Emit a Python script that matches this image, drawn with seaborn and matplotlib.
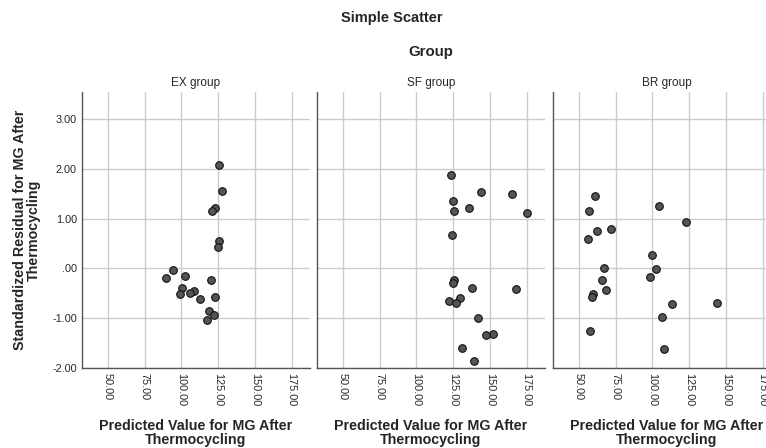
import numpy as np
import pandas as pd
import matplotlib
matplotlib.use("Agg")
import matplotlib.pyplot as plt
import seaborn as sns

sns.set_style("white")
plt.rcParams.update({
    "font.family": ["Liberation Sans", "DejaVu Sans"],
    "axes.edgecolor": "#555555",
    "axes.linewidth": 1.0,
})

groups = ["EX group", "SF group", "BR group"]

ex_pred = [125.7, 128.0, 122.6, 121.2, 125.7, 125.0, 94.5, 89.6, 102.7, 120.3,
           100.4, 99.3, 108.8, 106.1, 112.8, 123.2, 118.7, 122.1, 117.8]
ex_resid = [2.08, 1.56, 1.22, 1.16, 0.55, 0.43, -0.03, -0.19, -0.16, -0.23,
            -0.40, -0.51, -0.46, -0.50, -0.62, -0.57, -0.85, -0.94, -1.04]

sf_pred = [123.6, 143.9, 164.8, 125.0, 135.5, 125.7, 175.0, 124.1, 125.7, 124.8,
           137.7, 167.5, 129.8, 122.5, 126.8, 141.8, 152.3, 147.3, 130.9, 139.1]
sf_resid = [1.87, 1.54, 1.50, 1.36, 1.22, 1.16, 1.11, 0.67, -0.23, -0.29,
            -0.39, -0.42, -0.59, -0.65, -0.69, -0.99, -1.32, -1.34, -1.60, -1.86]

br_pred = [60.9, 57.1, 104.4, 122.6, 72.1, 62.3, 56.4, 99.8, 67.0, 102.3,
           98.3, 65.8, 68.3, 59.6, 59.1, 113.2, 143.8, 106.7, 57.8, 107.7]
br_resid = [1.45, 1.16, 1.26, 0.93, 0.79, 0.74, 0.59, 0.27, 0.01, -0.01,
            -0.17, -0.24, -0.44, -0.51, -0.57, -0.71, -0.69, -0.98, -1.26, -1.62]

x_ticks = [50, 75, 100, 125, 150, 175]
y_ticks = [3, 2, 1, 0, -1, -2]
y_ticklabels = ["3.00", "2.00", "1.00", ".00", "-1.00", "-2.00"]

df = pd.concat([
    pd.DataFrame({"group": g, "pred": p, "resid": r})
    for g, p, r in zip(groups, [ex_pred, sf_pred, br_pred], [ex_resid, sf_resid, br_resid])
])

W, H = 766, 448
fig = plt.figure(figsize=(W / 100, H / 100), dpi=100)
fig.patch.set_facecolor("white")

# third panel runs past the right edge, as in the reference crop
lefts = [82, 317, 553]
ax_w, ax_top, ax_bot = 228, 92, 368

for i, (g, left) in enumerate(zip(groups, lefts)):
    ax = fig.add_axes([left / W, 1 - ax_bot / H, ax_w / W, (ax_bot - ax_top) / H])
    sub = df[df["group"] == g]
    sns.scatterplot(data=sub, x="pred", y="resid", ax=ax, s=30,
                    color="#555555", edgecolor="#111111", linewidth=0.8, zorder=3)
    ax.set_xlim(32.5, 187.5)
    ax.set_ylim(-2, 3.54)
    ax.set_xticks(x_ticks)
    ax.set_xticklabels([f"{t:.2f}" for t in x_ticks], rotation=-90, fontsize=7.8)
    ax.set_yticks(y_ticks)
    if i == 0:
        ax.set_yticklabels(y_ticklabels, fontsize=7.8)
    else:
        ax.set_yticklabels([])
    ax.tick_params(length=0, pad=3.6)
    ax.grid(True, color="#cccccc", linewidth=1.0, zorder=0)
    ax.set_axisbelow(True)
    for side in ["top", "right"]:
        ax.spines[side].set_visible(False)
    ax.set_xlabel("")
    ax.set_ylabel("")
    ax.set_title(g, fontsize=8.5, pad=4)
    cx = (left + ax_w / 2) / W
    fig.text(cx, 1 - 433 / H, "Predicted Value for MG After\nThermocycling",
             ha="center", va="center", fontsize=10.3, fontweight="bold",
             linespacing=1.0)

fig.text(392 / W, 1 - 18 / H, "Simple Scatter", ha="center", va="center",
         fontsize=10.5, fontweight="bold")
fig.text(431 / W, 1 - 52 / H, "Group", ha="center", va="center",
         fontsize=10.8, fontweight="bold")
fig.text(27 / W, 1 - 230 / H, "Standardized Residual for MG After\nThermocycling",
         ha="center", va="center", rotation=90, fontsize=10.3, fontweight="bold",
         linespacing=1.0)

fig.savefig("out.png", dpi=100)
